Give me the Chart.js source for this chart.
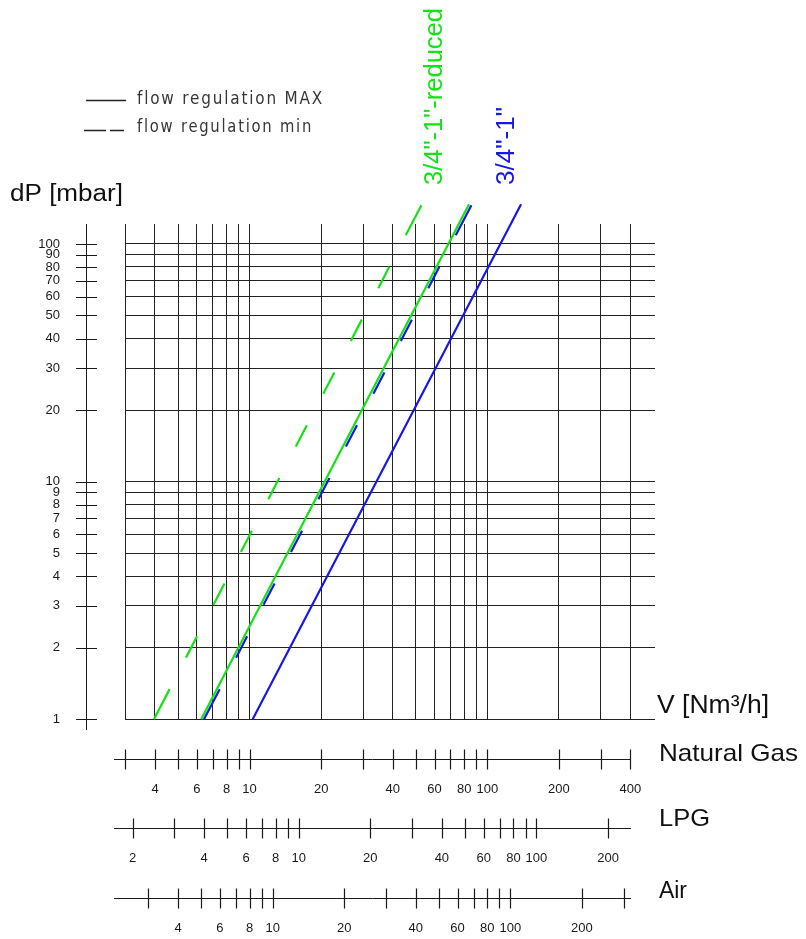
<!DOCTYPE html>
<html lang="en">
<head>
<meta charset="UTF-8">
<title>Pressure drop - flow rate</title>
<script src="https://cdn.jsdelivr.net/npm/chart.js@4.4.1/dist/chart.umd.min.js"></script>
<style>
  body { margin: 0; background: #fff; }
  canvas { display: block; }
</style>
</head>
<body>

<canvas id="dpChart" width="806" height="939"></canvas>

<script>
// grid of the diagram: natural gas flow [Nm3/h] and dP [mbar]
var flowGrid = [3, 4, 5, 6, 7, 8, 9, 10, 20, 30, 40, 50, 60, 70, 80, 90, 100, 200, 300, 400];
var dpGrid = [1, 2, 3, 4, 5, 6, 7, 8, 9, 10, 20, 30, 40, 50, 60, 70, 80, 90, 100];

// the three flow scales under the diagram
var gasTicks = [3, 4, 5, 6, 7, 8, 9, 10, 20, 30, 40, 50, 60, 70, 80, 90, 100, 200, 300, 400];
var gasLabels = [4, 6, 8, 10, 20, 40, 60, 80, 100, 200, 400];
var lpgTicks = [2, 3, 4, 5, 6, 7, 8, 9, 10, 20, 30, 40, 50, 60, 70, 80, 90, 100, 200];
var lpgLabels = [2, 4, 6, 8, 10, 20, 40, 60, 80, 100, 200];
var airTicks = [3, 4, 5, 6, 7, 8, 9, 10, 20, 30, 40, 50, 60, 70, 80, 90, 100, 200, 300];
var airLabels = [4, 6, 8, 10, 20, 40, 60, 80, 100, 200];

// natural gas flow / factor = LPG or air flow at the same dP
var lpgFactor = 1.61;
var airFactor = 1.25;

// curves: natural gas flow read at these dP values
var curveDp = [1, 10, 147];
var reducedMax = [6.26, 20.7, 83.8];   // 3/4"-1"-reduced, flow regulation MAX
var reducedMin = [3.96, 13.1, 53.1];   // 3/4"-1"-reduced, flow regulation min
var fullMax = [10.3, 34.2, 138.7];     // 3/4"-1", flow regulation MAX
var fullMin = [6.43, 21.3, 86.2];      // 3/4"-1", flow regulation min

var GREEN = '#14e214';
var BLUE = '#1818e4';

function points(flows) {
	var pts = [];
	for (var i = 0; i < flows.length; i++) {
		pts.push({x: flows[i], y: curveDp[i]});
	}
	return pts;
}

// long dashes at both ends, shorter ones in between (like the drawing)
function minDash() {
	var d = [34];
	for (var i = 0; i < 8; i++) d.push(35.5, 24);
	d.push(35.5, 34, 3000);
	return d;
}

// write text stretched to a given width (the drawing uses wide lettering)
function fitText(ctx, text, x, y, size, width, opts) {
	opts = opts || {};
	ctx.save();
	ctx.font = size + 'px ' + (opts.family || '"Liberation Sans", Arial, sans-serif');
	ctx.fillStyle = opts.color || '#111';
	ctx.textAlign = 'left';
	ctx.textBaseline = 'alphabetic';
	if (opts.spacing) ctx.letterSpacing = opts.spacing + 'px';
	var w = ctx.measureText(text).width;
	ctx.translate(x, y);
	if (opts.rotate) ctx.rotate(opts.rotate);
	ctx.scale(width / w, 1);
	ctx.fillText(text, 0, 0);
	ctx.restore();
}

function flowAxis(ctx, scale, ticks, labels, axisY, endX) {
	ctx.save();
	ctx.strokeStyle = '#1a1a1a';
	ctx.lineWidth = 1;
	ctx.beginPath();
	ctx.moveTo(114, axisY + 0.5);
	ctx.lineTo(endX, axisY + 0.5);
	ctx.stroke();
	ctx.lineWidth = 1.2;
	ctx.beginPath();
	for (var i = 0; i < ticks.length; i++) {
		var px = Math.round(scale.getPixelForValue(ticks[i])) + 0.5;
		ctx.moveTo(px, axisY - 9.5);
		ctx.lineTo(px, axisY + 10.5);
	}
	ctx.stroke();
	ctx.fillStyle = '#1a1a1a';
	ctx.font = '13px "Liberation Sans", Arial, sans-serif';
	ctx.textAlign = 'center';
	ctx.textBaseline = 'middle';
	for (var j = 0; j < labels.length; j++) {
		ctx.fillText(String(labels[j]), scale.getPixelForValue(labels[j]), axisY + 30);
	}
	ctx.restore();
}

var nomogram = {
	id: 'nomogram',
	afterDraw: function(chart) {
		var ctx = chart.ctx;
		var sx = chart.scales.x, sy = chart.scales.y;

		// dP scale on the left
		ctx.save();
		ctx.strokeStyle = '#1a1a1a';
		ctx.lineWidth = 1;
		ctx.beginPath();
		ctx.moveTo(86.5, 224);
		ctx.lineTo(86.5, 730);
		for (var i = 0; i < dpGrid.length; i++) {
			var py = Math.round(sy.getPixelForValue(dpGrid[i])) + 0.5;
			ctx.moveTo(76, py);
			ctx.lineTo(97, py);
		}
		ctx.stroke();
		ctx.fillStyle = '#1a1a1a';
		ctx.font = '13px "Liberation Sans", Arial, sans-serif';
		ctx.textAlign = 'right';
		ctx.textBaseline = 'middle';
		for (var k = 0; k < dpGrid.length; k++) {
			ctx.fillText(String(dpGrid[k]), 60, sy.getPixelForValue(dpGrid[k]));
		}
		ctx.restore();

		// flow scales
		flowAxis(ctx, sx, gasTicks, gasLabels, 759, Math.round(sx.getPixelForValue(400)) + 1);
		flowAxis(ctx, chart.scales.lpg, lpgTicks, lpgLabels, 828, 631);
		flowAxis(ctx, chart.scales.air, airTicks, airLabels, 898, 631);

		// titles
		fitText(ctx, 'dP [mbar]', 10, 201, 23, 113);
		fitText(ctx, 'V [Nm³/h]', 657, 713, 25, 112);
		fitText(ctx, 'Natural Gas', 659, 761, 24, 139);
		fitText(ctx, 'LPG', 659, 826, 24, 51);
		fitText(ctx, 'Air', 659, 898, 23, 28);

		// curve names
		fitText(ctx, '3/4"-1"-reduced', 442, 185, 25, 177, {rotate: -Math.PI / 2, color: GREEN});
		fitText(ctx, '3/4"-1"', 514, 185, 25, 78, {rotate: -Math.PI / 2, color: BLUE});

		// line style key
		ctx.save();
		ctx.strokeStyle = '#222';
		ctx.lineWidth = 1.4;
		ctx.beginPath();
		ctx.moveTo(86, 100.5);
		ctx.lineTo(126, 100.5);
		ctx.moveTo(84, 130.5);
		ctx.lineTo(106, 130.5);
		ctx.moveTo(110, 130.5);
		ctx.lineTo(124, 130.5);
		ctx.stroke();
		ctx.restore();
		var keyFont = {family: '"DejaVu Sans", sans-serif', color: '#3b3434', spacing: 2};
		fitText(ctx, 'flow regulation MAX', 137, 104, 17, 187, keyFont);
		fitText(ctx, 'flow regulation min', 137, 132, 17, 176, keyFont);
	}
};

var xMin = 3, xMax = 507.6;

new Chart(document.getElementById('dpChart'), {
	type: 'scatter',
	data: {
		datasets: [{
			label: '3/4"-1" min',
			data: points(fullMin),
			borderColor: BLUE,
			borderDash: minDash()
		}, {
			label: '3/4"-1" MAX',
			data: points(fullMax),
			borderColor: BLUE
		}, {
			label: '3/4"-1"-reduced MAX',
			data: points(reducedMax),
			borderColor: GREEN
		}, {
			label: '3/4"-1"-reduced min',
			data: points(reducedMin),
			borderColor: GREEN,
			borderDash: minDash()
		}]
	},
	options: {
		responsive: false,
		animation: false,
		showLine: true,
		datasets: {
			scatter: {showLine: true, clip: false, borderWidth: 2.2, pointRadius: 0, tension: 0}
		},
		layout: {padding: {left: 125.3, right: 151, top: 224, bottom: 219.7}},
		plugins: {
			legend: {display: false},
			tooltip: {enabled: false}
		},
		scales: {
			x: {
				type: 'logarithmic',
				min: xMin,
				max: xMax,
				afterBuildTicks: function(s) {
					s.ticks = flowGrid.map(function(v) { return {value: v}; });
				},
				ticks: {display: false},
				border: {display: false},
				grid: {color: '#222', lineWidth: 1, drawTicks: false}
			},
			y: {
				type: 'logarithmic',
				min: 1,
				max: 121.3,
				afterBuildTicks: function(s) {
					s.ticks = dpGrid.map(function(v) { return {value: v}; });
				},
				ticks: {display: false},
				border: {display: false},
				grid: {color: '#222', lineWidth: 1, drawTicks: false}
			},
			lpg: {
				type: 'logarithmic',
				axis: 'x',
				position: 'bottom',
				display: false,
				min: xMin / lpgFactor,
				max: xMax / lpgFactor
			},
			air: {
				type: 'logarithmic',
				axis: 'x',
				position: 'bottom',
				display: false,
				min: xMin / airFactor,
				max: xMax / airFactor
			}
		}
	},
	plugins: [nomogram]
});
</script>

</body>
</html>
